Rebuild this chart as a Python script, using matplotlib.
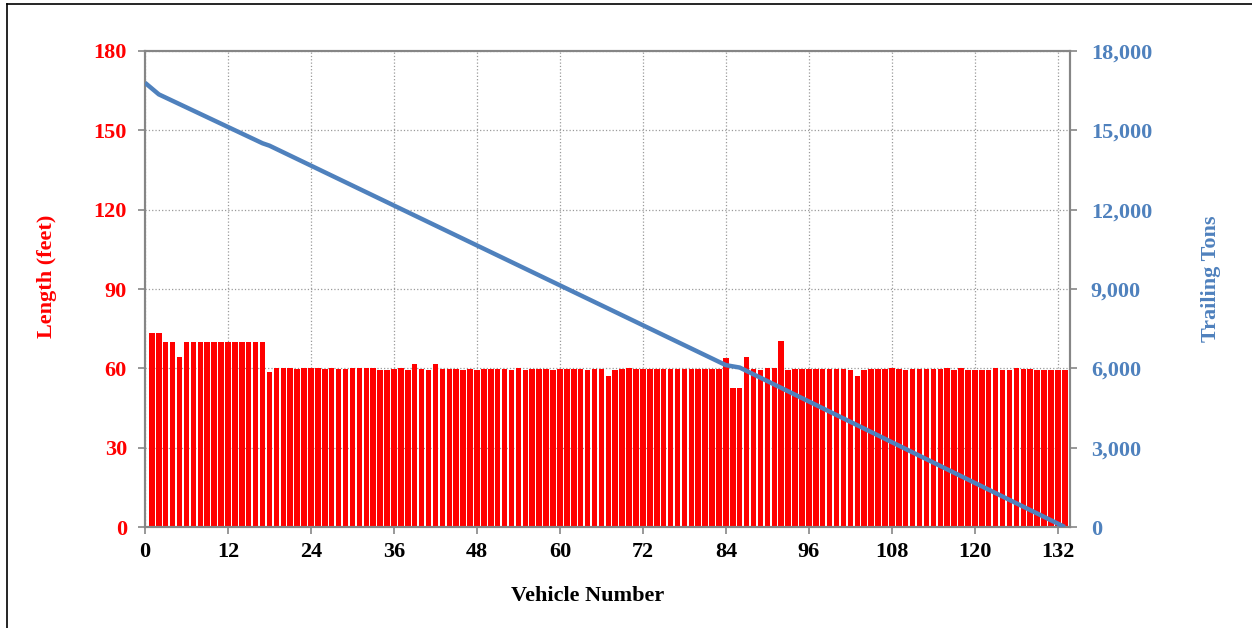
import matplotlib

matplotlib.use("Agg")
import matplotlib.pyplot as plt
import numpy as np
from matplotlib.lines import Line2D
from matplotlib.ticker import StrMethodFormatter

plt.rcParams["font.family"] = ["Liberation Serif", "DejaVu Serif"]
plt.rcParams["font.weight"] = "bold"

# length of each vehicle in feet, vehicles 1..133
vehicle_lengths = (
    [73.5, 73.5, 70, 70, 64.4] + [70] * 12 + [58.8]
    + [60, 60, 60, 59.6, 60, 60, 60, 59.6, 60, 59.6, 59.6, 60, 60, 60]  # 19-32
    + [60, 59.4, 59.4, 59.6, 60, 59.4, 61.5, 59.6, 59.4, 61.5]  # 33-42
    + [59.6, 59.6, 59.6, 59.4, 59.6, 59.4, 59.6, 59.6, 59.6, 59.6, 59.4, 60.1]  # 43-54
    + [59.4, 59.6, 59.6, 59.6, 59.4, 59.6, 59.6, 59.6, 59.6, 59.4, 59.6, 59.6]  # 55-66
    + [57, 59.4, 59.6, 60, 59.6] + [59.6] * 12  # 67-83
    + [63.8, 52.5, 52.5, 64.4, 59.6, 59.4, 60, 60, 70.3, 59.4]  # 84-93
    + [59.6] * 8 + [59.4, 57, 59.4, 59.6, 59.6, 59.6, 60, 59.6, 59.4]  # 94-110
    + [59.6] * 5 + [60, 59.4, 60, 59.4, 59.4, 59.4, 59.4, 60, 59.4, 59.4, 60]  # 111-126
    + [59.6, 59.6] + [59.4] * 5  # 127-133
)
vehicle_numbers = np.arange(1, len(vehicle_lengths) + 1)

# trailing tons, read at the corners of the line
line_vehicles = [0, 2, 17, 18, 84, 86, 133]
line_tons = [16800, 16360, 14510, 14420, 6120, 6030, 0]

x_ticks = list(range(0, 133, 12))
length_ticks = [0, 30, 60, 90, 120, 150, 180]
tons_ticks = [0, 3000, 6000, 9000, 12000, 15000, 18000]

RED = "#FF0000"
BLUE = "#4F81BD"
AXIS_GRAY = "#868686"

fig = plt.figure(figsize=(12.52, 6.28), dpi=100)
ax = fig.add_axes([0.1158, 0.1608, 0.7388, 0.758])

ax.bar(vehicle_numbers, vehicle_lengths, width=0.8, color=RED, zorder=2)
ax.set_xlim(0, 133.75)
ax.set_ylim(0, 180)
ax.set_xticks(x_ticks)
ax.set_yticks(length_ticks)
ax.grid(True, linestyle=":", color="#9a9a9a", linewidth=0.9)
ax.set_axisbelow(True)
ax.tick_params(axis="y", labelcolor=RED, color=AXIS_GRAY, labelsize=16, length=5, width=1.2, pad=8)
ax.tick_params(axis="x", labelcolor="black", color=AXIS_GRAY, labelsize=16, length=5, width=1.2, pad=6)
for spine in ax.spines.values():
    spine.set_color(AXIS_GRAY)
    spine.set_linewidth(1.5)

ax2 = ax.twinx()
ax2.plot(line_vehicles, line_tons, color=BLUE, lw=3.2, solid_capstyle="butt", zorder=3)
ax2.set_ylim(0, 18000)
ax2.set_yticks(tons_ticks)
ax2.yaxis.set_major_formatter(StrMethodFormatter("{x:,.0f}"))
ax2.tick_params(axis="y", labelcolor=BLUE, color=AXIS_GRAY, labelsize=16, length=5, width=1.2, pad=10)
for spine in ax2.spines.values():
    spine.set_color(AXIS_GRAY)
    spine.set_linewidth(1.5)

fig.text(0.0375, 0.5605, "Length (feet)", rotation=90, ha="center", va="center",
         fontsize=16, fontweight="bold", color=RED)
fig.text(0.9673, 0.556, "Trailing Tons", rotation=90, ha="center", va="center",
         fontsize=16, fontweight="bold", color=BLUE)
fig.text(0.4696, 0.051, "Vehicle Number", ha="center", va="center",
         fontsize=16, fontweight="bold", color="black")

# frame around the chart (only left and top edges show in the picture)
fig.add_artist(Line2D([0.0053, 0.0053], [0.0, 0.9936], color="black", lw=1.2))
fig.add_artist(Line2D([0.0053, 1.0], [0.9936, 0.9936], color="black", lw=1.2))

fig.savefig("out.png", dpi=100)
plt.close(fig)
